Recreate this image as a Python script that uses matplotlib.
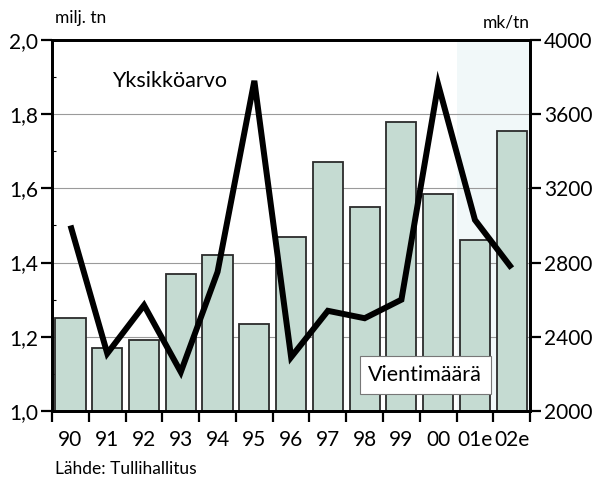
import matplotlib
matplotlib.use("Agg")
import matplotlib.pyplot as plt
import numpy as np
from matplotlib.ticker import FixedLocator, FuncFormatter

plt.rcParams["font.family"] = ["Lato", "DejaVu Sans"]

years = ["90", "91", "92", "93", "94", "95", "96", "97", "98", "99", "00", "01e", "02e"]
# vientimäärä, milj. tn (left axis)
volume = [1.25, 1.17, 1.19, 1.37, 1.42, 1.235, 1.47, 1.67, 1.55, 1.78, 1.585, 1.46, 1.755]
# yksikköarvo, mk/tn (right axis)
unit_value = [3000, 2310, 2570, 2210, 2750, 3780, 2290, 2540, 2500, 2600, 3760, 3030, 2770]

BAR_FACE = "#c5dbd2"
BAR_EDGE = "#2b2b2b"
SHADE = "#f1f8f9"

fig = plt.figure(figsize=(5.99, 4.91), dpi=100)
ax = fig.add_axes([0.087, 0.163, 0.798, 0.7555])
ax2 = ax.twinx()

x = np.arange(len(years))

# shaded estimate region (01e, 02e)
ax.axvspan(10.5, 12.5, color=SHADE, zorder=0, lw=0)

for v in [1.2, 1.4, 1.6, 1.8]:
    ax.axhline(v, color="#9a9a9a", lw=0.8, zorder=1)

ax.bar(x, volume, width=0.82, bottom=0, color=BAR_FACE, edgecolor=BAR_EDGE,
       linewidth=1.3, zorder=2)

ax2.plot(x, unit_value, color="black", lw=4.3, solid_joinstyle="miter",
         solid_capstyle="butt", zorder=5)

ax.set_xlim(-0.5, 12.5)
ax.set_ylim(1.0, 2.0)
ax2.set_ylim(2000, 4000)

ax.set_xticks(x)
ax.set_xticklabels(years)
ax.xaxis.set_minor_locator(FixedLocator(np.arange(-0.5, 13, 1.0)))
ax.tick_params(axis="x", which="major", length=0, pad=14, labelsize=15)
ax.tick_params(axis="x", which="minor", length=8, width=1.6, direction="out")

ax.set_yticks([1.0, 1.2, 1.4, 1.6, 1.8, 2.0])
ax.yaxis.set_major_formatter(FuncFormatter(lambda v, p: f"{v:.1f}".replace(".", ",")))
ax.yaxis.set_minor_locator(FixedLocator([1.1, 1.3, 1.5, 1.7, 1.9]))
ax.tick_params(axis="y", which="major", length=8, width=1.6, labelsize=15, pad=2)
ax.tick_params(axis="y", which="minor", length=3, width=0.8, direction="in")

ax2.set_yticks([2000, 2400, 2800, 3200, 3600, 4000])
ax2.tick_params(axis="y", which="major", length=8, width=1.6, labelsize=15, pad=2)

for a in (ax, ax2):
    for s in a.spines.values():
        s.set_linewidth(2.0)
        s.set_color("black")

ax.text(1.12, 1.89, "Yksikköarvo", fontsize=15.5, va="center", ha="left", zorder=6)
ax.text(9.65, 1.097, "Vientimäärä", fontsize=15.5, va="center", ha="center", zorder=6,
        bbox=dict(boxstyle="square,pad=0.4", facecolor="white", edgecolor="#777777", lw=0.8))

fig.text(0.092, 0.963, "milj. tn", fontsize=12.5, ha="left", va="center")
fig.text(0.885, 0.955, "mk/tn", fontsize=12.5, ha="right", va="center")
fig.text(0.092, 0.045, "Lähde: Tullihallitus", fontsize=12.5, ha="left", va="center")

fig.savefig("out.png", dpi=100)
